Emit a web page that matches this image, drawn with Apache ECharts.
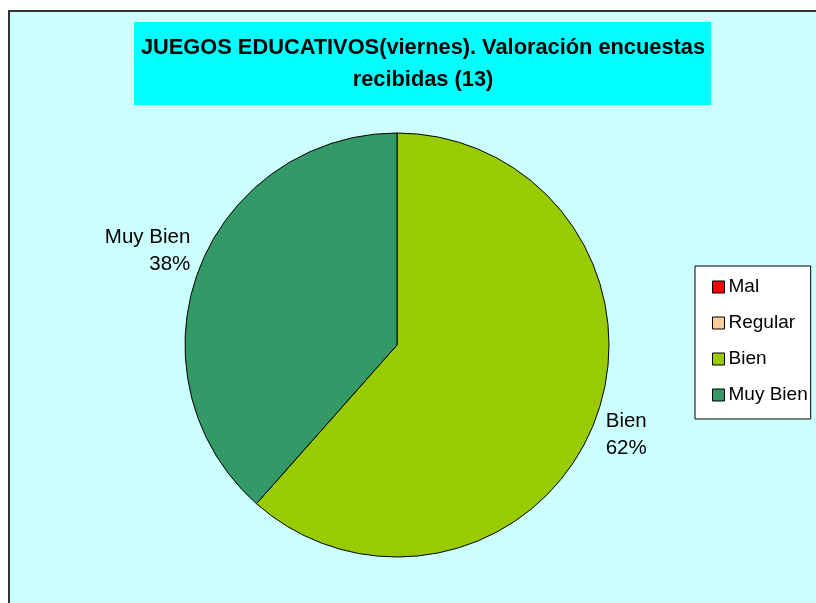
<!DOCTYPE html>
<html>
<head>
<meta charset="utf-8">
<script src="https://cdn.jsdelivr.net/npm/echarts@6/dist/echarts.min.js"></script>
<style>
  html, body { margin: 0; padding: 0; background: #fff; }
  #chart { width: 816px; height: 603px; }
</style>
</head>
<body>
<div id="chart"></div>
<script>
const categories = ['Mal', 'Regular', 'Bien', 'Muy Bien']
const counts = [0, 0, 8, 5]
const colors = ['#FF0000', '#FFCC99', '#99CC00', '#339966']
const titleText = 'JUEGOS EDUCATIVOS(viernes). Valoración encuestas\nrecibidas (13)'

const total = counts.reduce((a, b) => a + b, 0)

// nudge the outside labels to where the original sits them
const labelShift = {
  Bien: [-2, 12],
  'Muy Bien': [4, -16],
}

const chart = echarts.init(document.getElementById('chart'), null, { renderer: 'canvas' })

const option = {
  animation: false,
  graphic: [
    {
      type: 'rect',
      z: -10,
      shape: { x: 9, y: 11, width: 820, height: 600 },
      style: { fill: '#CCFFFF', stroke: '#333333', lineWidth: 2 },
    },
    {
      type: 'rect',
      z: -5,
      shape: { x: 134, y: 22, width: 577, height: 83 },
      style: { fill: '#00FFFF' },
    },
  ],
  title: {
    text: titleText,
    left: 418,
    top: 27,
    textAlign: 'center',
    textStyle: {
      fontFamily: 'Liberation Sans, Arial, sans-serif',
      fontSize: 21.8,
      fontWeight: 'bold',
      color: '#000',
      lineHeight: 32,
      align: 'center',
    },
  },
  legend: {
    orient: 'vertical',
    left: 695,
    top: 266,
    backgroundColor: '#fff',
    borderColor: '#000',
    borderWidth: 1,
    padding: [11.5, 3, 14.5, 17],
    itemWidth: 12,
    itemHeight: 12,
    itemGap: 17,
    icon: 'rect',
    itemStyle: { borderColor: '#000', borderWidth: 1 },
    textStyle: {
      fontFamily: 'Liberation Sans, Arial, sans-serif',
      fontSize: 19,
      lineHeight: 19,
      color: '#000',
      padding: [0, 0, 0, -1],
    },
    data: categories,
  },
  series: [
    {
      type: 'pie',
      center: [397, 345],
      radius: 212,
      startAngle: 90,
      clockwise: true,
      avoidLabelOverlap: false,
      itemStyle: { borderColor: '#000', borderWidth: 1 },
      label: {
        show: true,
        position: 'outside',
        fontFamily: 'Liberation Sans, Arial, sans-serif',
        fontSize: 20.5,
        color: '#000',
        lineHeight: 27,
        align: 'center',
        formatter: (p) => (p.value ? p.name + '\n' + Math.round((p.value / total) * 100) + '%' : ''),
      },
      labelLine: { show: false, length: 8, length2: 0 },
      labelLayout: (p) => {
        const s = labelShift[categories[p.dataIndex]]
        return s ? { dx: s[0], dy: s[1] } : {}
      },
      data: categories.map((c, i) => ({
        name: c,
        value: counts[i],
        itemStyle: { color: colors[i] },
      })),
    },
  ],
}

chart.setOption(option)
</script>
</body>
</html>
